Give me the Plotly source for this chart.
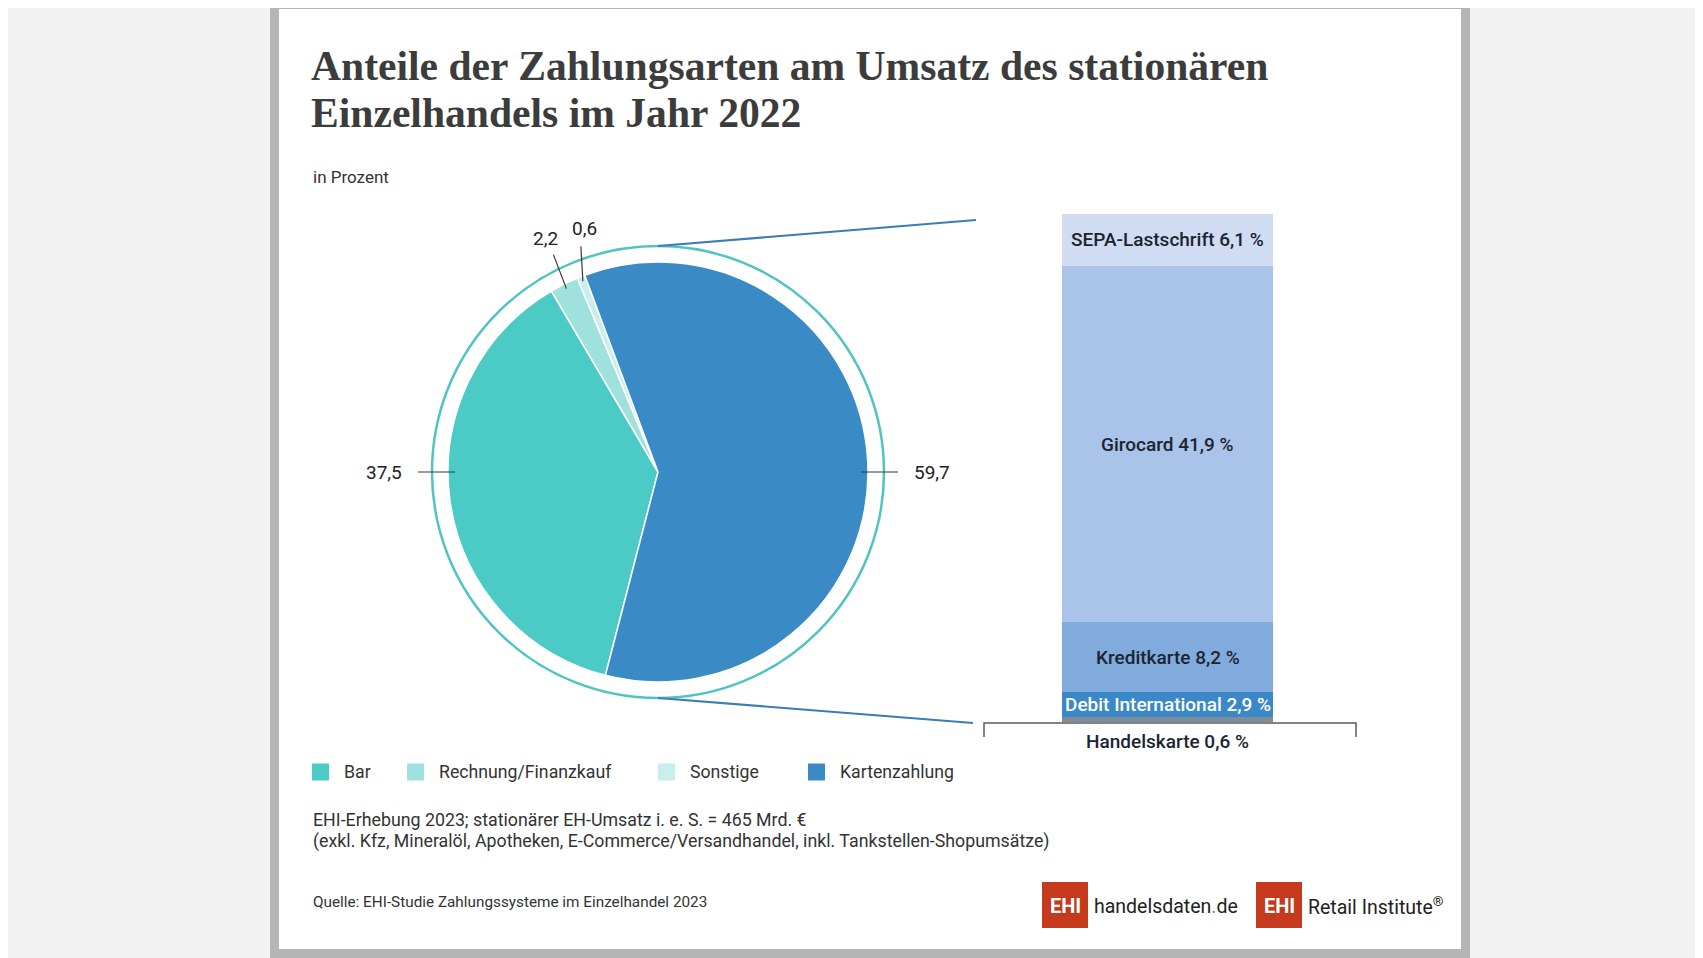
import math
import plotly.graph_objects as go

W, H = 1703, 958
OFF = 8  # the page puts the figure 8 px in from the top-left corner

# data
pay_labels = ["Bar", "Rechnung/Finanzkauf", "Sonstige", "Kartenzahlung"]
pay_values = [37.5, 2.2, 0.6, 59.7]

card_labels = ["SEPA-Lastschrift", "Girocard", "Kreditkarte", "Debit International", "Handelskarte"]
card_values = [6.1, 41.9, 8.2, 2.9, 0.6]

title_lines = ["Anteile der Zahlungsarten am Umsatz des stationären", "Einzelhandels im Jahr 2022"]
unit_text = "in Prozent"
note_lines = ["EHI-Erhebung 2023; stationärer EH-Umsatz i. e. S. = 465 Mrd. €",
              "(exkl. Kfz, Mineralöl, Apotheken, E-Commerce/Versandhandel, inkl. Tankstellen-Shopumsätze)"]
source_text = "Quelle: EHI-Studie Zahlungssysteme im Einzelhandel 2023"

# styles
pay_colors = ["#4ccac6", "#9fe1dd", "#c7efed", "#3a8ac6"]
card_colors = ["#cfdcf2", "#a9c4e8", "#80abdc", "#3a88c7", "#7f8d99"]
card_text_colors = ["#1c2431", "#1c2431", "#1c2431", "#ffffff", "#1c2431"]
SANS = "Roboto, Lato, sans-serif"
SERIF = "Liberation Serif, serif"
DARK = "#333333"

CX, CY, R, RING = 658, 472, 210, 226   # pie centre / radius / outer ring, in px
START = 194.5                           # where the first slice starts (deg, clockwise from 12 o'clock)
BAR_L, BAR_R, BAR_T, BAR_B = 1062, 1273, 214, 722
LEG_X = [312, 407, 658, 808]            # left edge of each legend swatch
LEG_Y = 772

# leader offsets for the two thin slices: tail dx, dy from tip, text dx, dy from tail
small_leaders = {"Rechnung/Finanzkauf": (-13, -34, -8, -16), "Sonstige": (-2, -35, 4, -18)}


def de(v):
    return f"{v:.1f}".replace(".", ",")


def px(x):
    return (x - OFF) / W


def py(y):
    return 1 - (y - OFF) / H


def polar(r, ang):
    a = math.radians(ang)
    return CX + r * math.sin(a), CY - r * math.cos(a)


fig = go.Figure()

fig.add_trace(go.Pie(
    labels=pay_labels, values=pay_values, sort=False, direction="clockwise", rotation=START,
    marker=dict(colors=pay_colors, line=dict(color="white", width=1.5)),
    textinfo="none", hovertemplate="%{label}: %{value}<extra></extra>", showlegend=False,
    domain=dict(x=[px(CX - R), px(CX + R)], y=[py(CY + R), py(CY - R)]),
))

# stacked breakdown bar, bottom segment first
for lab, val, col in reversed(list(zip(card_labels, card_values, card_colors))):
    fig.add_trace(go.Bar(
        x=[0], y=[val], name=lab, width=1, showlegend=False,
        marker=dict(color=col, line=dict(width=0)),
        hovertemplate=f"{lab}: %{{y}} %<extra></extra>",
    ))

shapes = [
    # card
    dict(type="rect", xref="paper", yref="paper", x0=px(274.5), x1=px(1465.5), y0=py(953.5), y1=py(4.5),
         fillcolor="white", line=dict(color="#b5b5b5", width=9), layer="below"),
    # ring around pie
    dict(type="circle", xref="paper", yref="paper", x0=px(CX - RING), x1=px(CX + RING),
         y0=py(CY + RING), y1=py(CY - RING), line=dict(color="#4fc4c0", width=2.5), layer="below"),
    # zoom lines to the bar
    dict(type="line", xref="paper", yref="paper", x0=px(CX), y0=py(CY - RING), x1=px(976), y1=py(220),
         line=dict(color="#3b7db6", width=2.2)),
    dict(type="line", xref="paper", yref="paper", x0=px(CX), y0=py(CY + RING), x1=px(973), y1=py(723),
         line=dict(color="#3b7db6", width=2.2)),
    # bracket under the bar
    dict(type="path", xref="paper", yref="paper",
         path=f"M {px(984)},{py(737)} L {px(984)},{py(723)} L {px(1356)},{py(723)} L {px(1356)},{py(737)}",
         line=dict(color="#5a5a5a", width=1.5)),
]

annotations = []
for i, line in enumerate(title_lines):
    annotations.append(dict(text=line, x=px(309), y=py(41 + 47 * i), xanchor="left", yanchor="top",
                            font=dict(family=SERIF, size=41.6, color="#3c3c3c", weight="bold")))
annotations.append(dict(text=unit_text, x=px(311), y=py(177), xanchor="left", yanchor="middle",
                        font=dict(family=SANS, size=17, color=DARK)))
for i, line in enumerate(note_lines):
    annotations.append(dict(text=line, x=px(311), y=py(819 + 22 * i), xanchor="left", yanchor="middle",
                            font=dict(family=SANS, size=17.8, color=DARK)))
annotations.append(dict(text=source_text, x=px(311), y=py(902), xanchor="left", yanchor="middle",
                        font=dict(family=SANS, size=15.3, color=DARK)))

# legend key (swatch + label)
for lab, col, lx in zip(pay_labels, pay_colors, LEG_X):
    shapes.append(dict(type="rect", xref="paper", yref="paper", x0=px(lx), x1=px(lx + 17),
                       y0=py(LEG_Y + 8.5), y1=py(LEG_Y - 8.5), fillcolor=col, line=dict(width=0)))
    annotations.append(dict(text=lab, x=px(lx + 30), y=py(LEG_Y), xanchor="left", yanchor="middle",
                            font=dict(family=SANS, size=17.7, color=DARK)))

# pie labels with leader lines
total = sum(pay_values)
cum = 0
for lab, val in zip(pay_labels, pay_values):
    mid = START + 360 * (cum + val / 2) / total
    cum += val
    if lab in small_leaders:
        tdx, tdy, ldx, ldy = small_leaders[lab]
        x0, y0 = polar(205, mid)
        x1, y1 = x0 + tdx, y0 + tdy
        tx, ty = x1 + ldx, y1 + ldy
    else:
        side = 1 if math.sin(math.radians(mid)) > 0 else -1
        x0, y0 = CX + side * 203, CY
        x1, y1 = CX + side * 240, CY
        tx, ty = CX + side * 274, CY
    shapes.append(dict(type="line", xref="paper", yref="paper", x0=px(x0), y0=py(y0), x1=px(x1), y1=py(y1),
                       line=dict(color="#3a3a3a", width=1.2)))
    annotations.append(dict(text=de(val), x=px(tx), y=py(ty), xanchor="center", yanchor="middle",
                            font=dict(family=SANS, size=19, color="#222222")))

# bar labels
bar_total = sum(card_values)
above = 0
for lab, val, tc in zip(card_labels, card_values, card_text_colors):
    mid = bar_total - above - val / 2
    above += val
    txt = f"{lab} {de(val)} %"
    if lab == card_labels[-1]:
        annotations.append(dict(text=txt, xref="x", yref="y", x=0, y=0, yanchor="top", yshift=-6,
                                font=dict(family=SANS, size=19, color=tc, weight=500)))
    else:
        annotations.append(dict(text=txt, xref="x", yref="y", x=0, y=mid, yanchor="middle",
                                font=dict(family=SANS, size=19, color=tc, weight=500)))

# logos
for x0, label in [(1042, "handelsdaten<span style='color:#e2761f'>.</span>de"),
                  (1256, "Retail Institute<sup>®</sup>")]:
    shapes.append(dict(type="rect", xref="paper", yref="paper", x0=px(x0), x1=px(x0 + 46),
                       y0=py(928), y1=py(882), fillcolor="#c5391c", line=dict(width=0)))
    annotations.append(dict(text="EHI", x=px(x0 + 23), y=py(906), xanchor="center", yanchor="middle",
                            font=dict(family=SANS, size=20, color="white", weight="bold")))
    annotations.append(dict(text=label, x=px(x0 + 50), y=py(906), xanchor="left", yanchor="middle",
                            font=dict(family=SANS, size=19.5, color="#222222")))

for a in annotations:
    a.setdefault("xref", "paper")
    a.setdefault("yref", "paper")
    a["showarrow"] = False

fig.update_layout(
    width=W, height=H, margin=dict(l=0, r=0, t=0, b=0),
    paper_bgcolor="#f2f2f2", plot_bgcolor="rgba(0,0,0,0)",
    barmode="stack", bargap=0, showlegend=False,
    xaxis=dict(domain=[px(BAR_L), px(BAR_R)], range=[-0.5, 0.5], visible=False, fixedrange=True),
    yaxis=dict(domain=[py(BAR_B), py(BAR_T)], range=[0, bar_total], visible=False, fixedrange=True),
    shapes=shapes, annotations=annotations,
)

fig.write_html("out.html")
